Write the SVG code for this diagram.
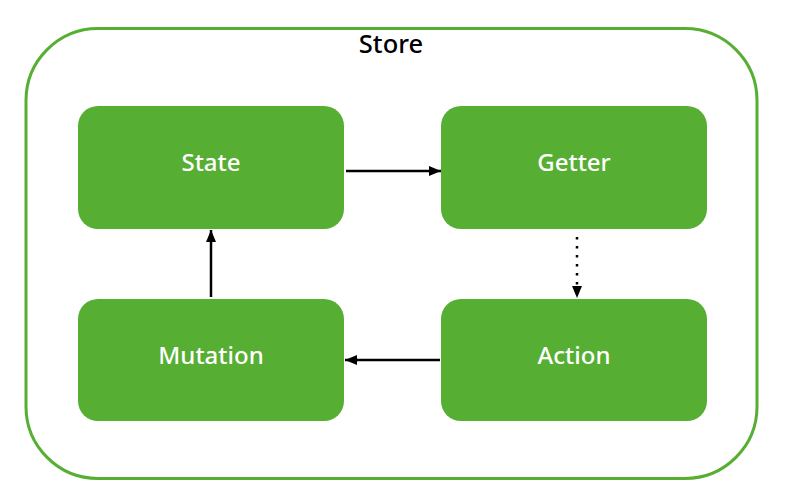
<svg xmlns="http://www.w3.org/2000/svg" width="788" height="496" viewBox="0 0 788 496">
<defs>
<style>
.node rect{fill:#56ae33;}
.node text{fill:#ffffff;font-family:"Noto Sans","Liberation Sans",sans-serif;font-size:24px;font-weight:500;text-anchor:middle;}
.edge{stroke:#000;stroke-width:2.5;fill:none;}
.dotted{stroke-dasharray:2.5 6.5;}
</style>
<marker id="arr" viewBox="0 0 12 10" refX="12" refY="5" markerWidth="12" markerHeight="10" markerUnits="userSpaceOnUse" orient="auto">
<path d="M0,0 L12,5 L0,10 Z" fill="#000"/>
</marker>
</defs>
<g id="store">
<rect x="26" y="28.5" width="731" height="450" rx="72" ry="72" fill="#fff" stroke="#56ae33" stroke-width="3"/>
<text x="391" y="53" font-family="Noto Sans, Liberation Sans, sans-serif" font-size="25.5" font-weight="500" fill="#000" text-anchor="middle">Store</text>
</g>
<g id="state" class="node"><rect x="78" y="106" width="266" height="123" rx="20"/><text x="211" y="171">State</text></g>
<g id="getter" class="node"><rect x="441" y="106" width="266" height="123" rx="20"/><text x="574" y="171">Getter</text></g>
<g id="mutation" class="node"><rect x="78" y="299" width="266" height="122" rx="20"/><text x="211" y="364">Mutation</text></g>
<g id="action" class="node"><rect x="441" y="299" width="266" height="122" rx="20"/><text x="574" y="364">Action</text></g>
<g id="connectors">
<line class="edge" x1="346" y1="171" x2="441" y2="171" marker-end="url(#arr)"/>
<line class="edge" x1="211" y1="297" x2="211" y2="230" marker-end="url(#arr)"/>
<line class="edge" x1="440" y1="360" x2="345" y2="360" marker-end="url(#arr)"/>
<line class="edge dotted" x1="577" y1="237" x2="577" y2="298" marker-end="url(#arr)"/>
</g>
</svg>
